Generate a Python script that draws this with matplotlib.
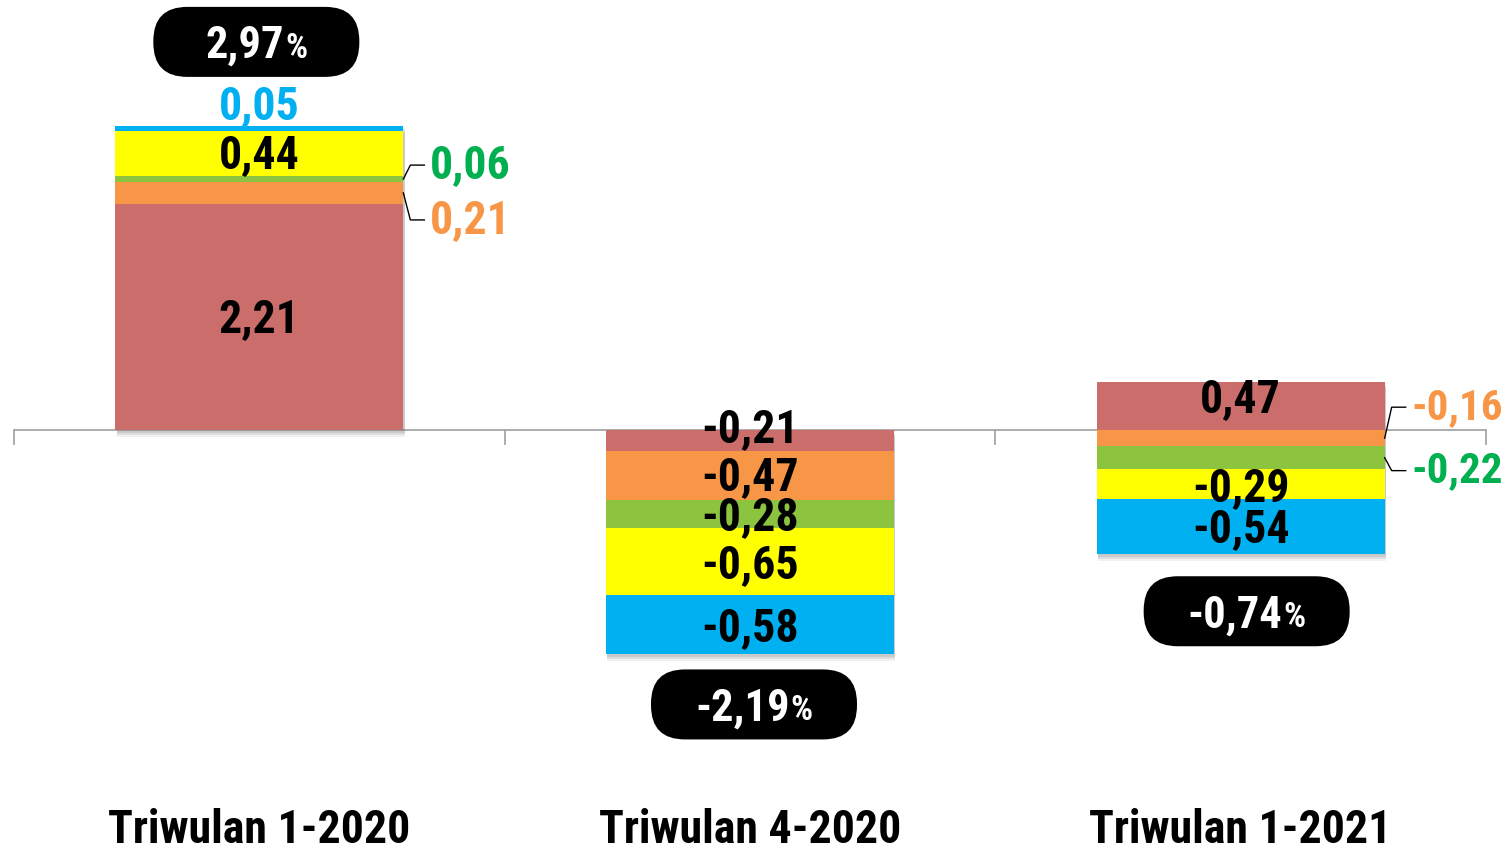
import matplotlib
matplotlib.use("Agg")
import matplotlib.pyplot as plt
from matplotlib import font_manager
from matplotlib.font_manager import FontProperties
from matplotlib.patches import FancyBboxPatch
from matplotlib.transforms import IdentityTransform
import matplotlib.patheffects as pe

# ---------------- data ----------------
categories = ["Triwulan 1-2020", "Triwulan 4-2020", "Triwulan 1-2021"]
red_vals = [2.21, -0.21, 0.47]
orange_vals = [0.21, -0.47, -0.16]
green_vals = [0.06, -0.28, -0.22]
yellow_vals = [0.44, -0.65, -0.29]
blue_vals = [0.05, -0.58, -0.54]
totals = [2.97, -2.19, -0.74]

series = [red_vals, orange_vals, green_vals, yellow_vals, blue_vals]
colors = ["#CB6D6A", "#F79646", "#8CC43F", "#FFFF00", "#00B0F0"]
label_colors_out = {1: "#F79646", 2: "#00B050", 4: "#00B0F0"}

# ---------------- fonts: find a condensed bold face ----------------
def pick_font():
    fl = font_manager.fontManager.ttflist
    def bold(f):
        w = f.weight
        if isinstance(w, str):
            return w in ("bold", "heavy", "extra bold", "black", "semibold", "demibold")
        return w >= 600
    prefs = ["Liberation Sans Narrow", "Arial Narrow", "Roboto Condensed", "DejaVu Sans Condensed",
             "Open Sans Condensed", "Noto Sans Condensed"]
    for p in prefs:
        for f in fl:
            if f.name == p and bold(f):
                return FontProperties(fname=f.fname), True
    for f in fl:
        if ("Narrow" in f.name or "Condensed" in f.name or "condensed" in str(f.stretch)
                or "Condensed" in f.fname or "Narrow" in f.fname) and bold(f):
            return FontProperties(fname=f.fname), True
    return FontProperties(family="Liberation Sans", weight="bold"), False

FP, NARROW = pick_font()
SCALE = 1.0 if NARROW else 0.86

W, H, DPI = 1507, 852, 100
fig = plt.figure(figsize=(W / DPI, H / DPI), dpi=DPI)
ax = fig.add_axes([14 / W, 0, 1472 / W, 1])
ax.set_xlim(-0.5, 2.5)
ax.set_ylim(-4.121, 4.199)
ax.axis("off")

def fp(size):
    f = FP.copy()
    f.set_size(size * SCALE)
    return f

# axis line + ticks
ax.axhline(0, color="#A6A6A6", lw=1.3, zorder=1)
for xb in [-0.5, 0.5, 1.5, 2.5]:
    ax.plot([xb, xb], [0, -0.135], color="#A6A6A6", lw=1.3, zorder=1, clip_on=False)

bw = 0.587
xs = list(range(len(categories)))
pos_base = [0.0] * 3
neg_base = [0.0] * 3
seg = {}
for si, vals in enumerate(series):
    bottoms = []
    for ci, v in enumerate(vals):
        if v >= 0:
            bottoms.append(pos_base[ci]); pos_base[ci] += v
        else:
            bottoms.append(neg_base[ci]); neg_base[ci] += v
        seg[(si, ci)] = (bottoms[-1], bottoms[-1] + v)
    ax.bar(xs, vals, bw, bottom=bottoms, color=colors[si], zorder=2, linewidth=0)

# soft shadow behind stacks
for ci in xs:
    top = pos_base[ci]; bot = neg_base[ci]
    for dx, dy, a in [(1, -5, 0.10), (1, -3.5, 0.15), (1, -2, 0.2)]:
        r = plt.Rectangle((ci - bw / 2, bot), bw, top - bot, facecolor="white", zorder=1.9,
                          path_effects=[pe.SimplePatchShadow(offset=(dx, dy), shadow_rgbFace="#777777", alpha=a)])
        ax.add_patch(r)

def fmt(v):
    return ("%.2f" % v).replace(".", ",")

FS = 33
px = (4.199 + 4.121) / 852  # data units per pixel
xdx = 490.5  # pixels per category

inside = [(0, 0, -2), (3, 0, -2), (0, 1, 12), (1, 1, -1), (2, 1, -3), (3, 1, -3), (4, 1, -3),
          (0, 2, 7), (3, 2, -4), (4, 2, -3)]
for si, ci, off in inside:
    b, t = seg[(si, ci)]
    ax.text(ci, (b + t) / 2 + off * px, fmt(series[si][ci]), ha="center", va="center",
            fontproperties=fp(FS), color="black", zorder=5)

b, t = seg[(4, 0)]
ax.text(0, t + 20 * px, fmt(blue_vals[0]), ha="center", va="center", fontproperties=fp(FS),
        color="#00B0F0", zorder=5)

def leader(si, ci, dy_px, size):
    b, t = seg[(si, ci)]
    yc = (b + t) / 2
    x0 = ci + bw / 2
    yl = yc + dy_px * px
    ax.plot([x0, x0 + 7 / xdx, x0 + 21 / xdx], [yc, yl, yl], color="black", lw=1, zorder=5,
            clip_on=False)
    ax.text(x0 + 27 / xdx, yl, fmt(series[si][ci]), ha="left", va="center",
            fontproperties=fp(size), color=label_colors_out[si], zorder=5)

leader(2, 0, 14, FS)
leader(1, 0, -27, FS)
leader(1, 2, 31, 31)
leader(2, 2, -13, 31)

# pill total labels
fig.canvas.draw()
renderer = fig.canvas.get_renderer()
pill_y = [3.79, -2.68, -1.77]
pill_dx = [-3, 4, 6]
for ci, tot in enumerate(totals):
    cx, cy = ax.transData.transform((ci, pill_y[ci]))
    cx += pill_dx[ci]
    pw, ph = 206, 70
    box = FancyBboxPatch((cx - pw / 2, cy - ph / 2), pw, ph,
                         boxstyle="round,pad=0,rounding_size=34", transform=IdentityTransform(),
                         facecolor="black", edgecolor="none", zorder=6)
    box.set_figure(fig)
    fig.patches.append(box)
    t1 = fig.text(0, 0, fmt(tot), fontproperties=fp(32), color="white",
                  ha="left", va="baseline", zorder=7)
    t2 = fig.text(0, 0, "%", fontproperties=fp(25), color="white",
                  ha="left", va="baseline", zorder=7)
    w1 = t1.get_window_extent(renderer).width
    w2 = t2.get_window_extent(renderer).width
    total_w = w1 + w2 + 1
    x_start = cx - total_w / 2
    base = cy - 16
    t1.set_position((x_start / W, base / H))
    t2.set_position(((x_start + w1 + 1) / W, base / H))

for ci, c in enumerate(categories):
    ax.text(ci, -(830 - 430) * px, c, ha="center", va="center", fontproperties=fp(FS),
            color="black")

fig.savefig("out.png", dpi=DPI)
